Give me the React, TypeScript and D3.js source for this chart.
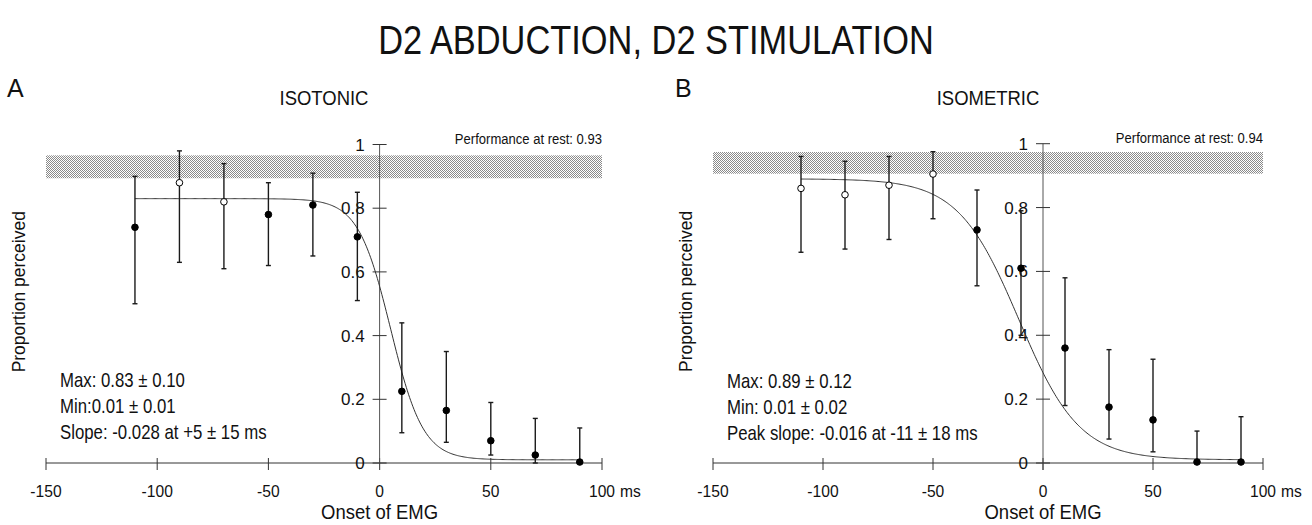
import React from 'react';
import * as d3 from 'd3';

const W = 1312;
const H = 525;

// ---------- data ----------
const onsetTimes = [-110, -90, -70, -50, -30, -10, 10, 30, 50, 70, 90];
const xTicks = [-150, -100, -50, 0, 50, 100];
const xTickLabels = ['-150', '-100', '-50', '0', '50', '100'];
const yTicks = [0, 0.2, 0.4, 0.6, 0.8, 1];
const yTickLabels = ['0', '0.2', '0.4', '0.6', '0.8', '1'];

const isotonicMean = [0.74, 0.88, 0.82, 0.78, 0.81, 0.71, 0.225, 0.165, 0.07, 0.025, 0.003];
const isotonicUpper = [0.9, 0.98, 0.94, 0.88, 0.91, 0.85, 0.44, 0.35, 0.19, 0.14, 0.11];
const isotonicLower = [0.5, 0.63, 0.61, 0.62, 0.65, 0.51, 0.095, 0.065, 0.025, 0.0, 0.0];
const isotonicOpen = [false, true, true, false, false, false, false, false, false, false, false];
// fit: max, min, slope, time of slope
const isotonicFit = [0.83, 0.01, -0.028, 5];
// rest performance: mean, half-width of band
const isotonicRest = [0.93, 0.036];
const isotonicNotes = ['Max: 0.83 \u00b1 0.10', 'Min:0.01 \u00b1 0.01', 'Slope: -0.028 at +5 \u00b1 15 ms'];

const isometricMean = [0.86, 0.84, 0.87, 0.905, 0.73, 0.61, 0.36, 0.175, 0.135, 0.003, 0.003];
const isometricUpper = [0.96, 0.945, 0.96, 0.975, 0.855, 0.79, 0.58, 0.355, 0.325, 0.1, 0.145];
const isometricLower = [0.66, 0.67, 0.7, 0.765, 0.555, 0.4, 0.18, 0.075, 0.035, 0.0, 0.0];
const isometricOpen = [true, true, true, true, false, false, false, false, false, false, false];
const isometricFit = [0.89, 0.01, -0.016, -11];
const isometricRest = [0.94, 0.034];
const isometricNotes = ['Max: 0.89 \u00b1 0.12', 'Min: 0.01 \u00b1 0.02', 'Peak slope: -0.016 at -11 \u00b1 18 ms'];

const FONT = "'Liberation Sans', Arial, Helvetica, sans-serif";

function T(props: any) {
  const { x, y, size, sx = 1, anchor = 'start', rotate = 0, children, fill = '#111' } = props;
  return (
    <text
      transform={`translate(${x},${y}) rotate(${rotate}) scale(${sx},1)`}
      fontSize={size}
      textAnchor={anchor}
      fontFamily={FONT}
      fill={fill}
    >
      {children}
    </text>
  );
}

function Panel(props: any) {
  const { layout, mean, upper, lower, open, fit, rest, notes, letter, subtitle } = props;
  const x = d3.scaleLinear().domain([-150, 100]).range([layout.x0, layout.x1]);
  const y = d3.scaleLinear().domain([0, 1]).range([layout.yBottom, layout.yTop]);
  const [fmax, fmin, fslope, fmid] = fit;
  const k = (fmax - fmin) / (-4 * fslope);
  const fitFn = (t: number) => fmin + (fmax - fmin) / (1 + Math.exp((t - fmid) / k));
  const t0 = onsetTimes[0];
  const t1 = onsetTimes[onsetTimes.length - 1];
  const curvePts: [number, number][] = d3.range(t0, t1 + 0.25, 0.5).map((t) => [t, fitFn(t)]);
  const line = d3
    .line<[number, number]>()
    .x((d) => x(d[0]))
    .y((d) => y(d[1]));
  const x0 = x(0);
  const yb = y(0);
  const cx = (layout.x0 + layout.x1) / 2;

  return (
    <g>
      {/* rest performance band */}
      <rect
        x={x(-150)}
        width={x(100) - x(-150)}
        y={y(rest[0] + rest[1])}
        height={y(rest[0] - rest[1]) - y(rest[0] + rest[1])}
        fill="url(#stipple)"
      />
      <T x={x(100)} y={layout.yTop - 1} size={15} sx={0.87} anchor="end">
        {`Performance at rest: ${rest[0].toFixed(2)}`}
      </T>

      {/* x axis */}
      <line x1={x(-150)} x2={x(100)} y1={yb} y2={yb} stroke="#333" strokeWidth={1} />
      {xTicks.map((t, i) => (
        <g key={'xt' + i}>
          <line x1={x(t)} x2={x(t)} y1={yb - 5} y2={yb + 7} stroke="#333" strokeWidth={1} />
          <T x={x(t)} y={yb + 34} size={17} sx={0.92} anchor="middle">
            {xTickLabels[i]}
          </T>
        </g>
      ))}
      <T x={x(100) + 18} y={yb + 34} size={17} sx={0.92} anchor="start">
        ms
      </T>
      <T x={x0} y={yb + 56} size={21} sx={0.88} anchor="middle">
        Onset of EMG
      </T>

      {/* y axis */}
      <line x1={x0} x2={x0} y1={y(1)} y2={yb + 7} stroke="#555" strokeWidth={1} />
      {yTicks.map((t, i) => (
        <g key={'yt' + i}>
          <line x1={x0 - 7} x2={x0 + 7} y1={y(t)} y2={y(t)} stroke="#333" strokeWidth={1} />
          <T x={x0 - 15} y={y(t) + 6} size={17} anchor="end">
            {yTickLabels[i]}
          </T>
        </g>
      ))}
      <T x={layout.x0 - 21} y={(y(0) + y(1)) / 2 - 12} size={19} sx={0.92} anchor="middle" rotate={-90}>
        Proportion perceived
      </T>

      {/* fit curve */}
      <path d={line(curvePts) || ''} fill="none" stroke="#333" strokeWidth={1} />

      {/* error bars */}
      {onsetTimes.map((t, i) => (
        <g key={'eb' + i} stroke="#1a1a1a" strokeWidth={1.4}>
          <line x1={x(t)} x2={x(t)} y1={y(upper[i])} y2={y(lower[i])} />
          <line x1={x(t) - 2.5} x2={x(t) + 2.5} y1={y(upper[i])} y2={y(upper[i])} />
          <line x1={x(t) - 2.5} x2={x(t) + 2.5} y1={y(lower[i])} y2={y(lower[i])} />
        </g>
      ))}
      {/* points */}
      {onsetTimes.map((t, i) => (
        <circle
          key={'pt' + i}
          cx={x(t)}
          cy={y(mean[i])}
          r={3.3}
          fill={open[i] ? '#fff' : '#000'}
          stroke="#000"
          strokeWidth={1}
        />
      ))}

      {/* annotations */}
      {notes.map((s: string, i: number) => (
        <T key={'n' + i} x={layout.noteX} y={layout.noteY + i * 26} size={20} sx={0.84}>
          {s}
        </T>
      ))}

      {/* panel letter & subtitle */}
      <T x={layout.letterX} y={97} size={25}>
        {letter}
      </T>
      <T x={cx} y={105} size={21} sx={0.88} anchor="middle">
        {subtitle}
      </T>
    </g>
  );
}

export default function App() {
  const layoutA = { x0: 46, x1: 602, yBottom: 463, yTop: 144.5, noteX: 60, noteY: 387, letterX: 7 };
  const layoutB = { x0: 713, x1: 1263, yBottom: 463, yTop: 143.7, noteX: 727, noteY: 388, letterX: 675 };
  return (
    <svg
      width={W}
      height={H}
      style={{ position: 'absolute', left: 0, top: 0, background: '#fff' }}
      xmlns="http://www.w3.org/2000/svg"
    >
      <defs>
        <pattern id="stipple" width={2} height={2} patternUnits="userSpaceOnUse">
          <rect width={2} height={2} fill="#fff" />
          <rect x={0} y={0} width={1} height={1} fill="#8a8a8a" />
          <rect x={1} y={1} width={1} height={1} fill="#8a8a8a" />
        </pattern>
      </defs>
      <rect width={W} height={H} fill="#fff" />
      <T x={656} y={54} size={40} sx={0.86} anchor="middle">
        D2 ABDUCTION, D2 STIMULATION
      </T>
      <Panel
        layout={layoutA}
        mean={isotonicMean}
        upper={isotonicUpper}
        lower={isotonicLower}
        open={isotonicOpen}
        fit={isotonicFit}
        rest={isotonicRest}
        notes={isotonicNotes}
        letter="A"
        subtitle="ISOTONIC"
      />
      <Panel
        layout={layoutB}
        mean={isometricMean}
        upper={isometricUpper}
        lower={isometricLower}
        open={isometricOpen}
        fit={isometricFit}
        rest={isometricRest}
        notes={isometricNotes}
        letter="B"
        subtitle="ISOMETRIC"
      />
    </svg>
  );
}
